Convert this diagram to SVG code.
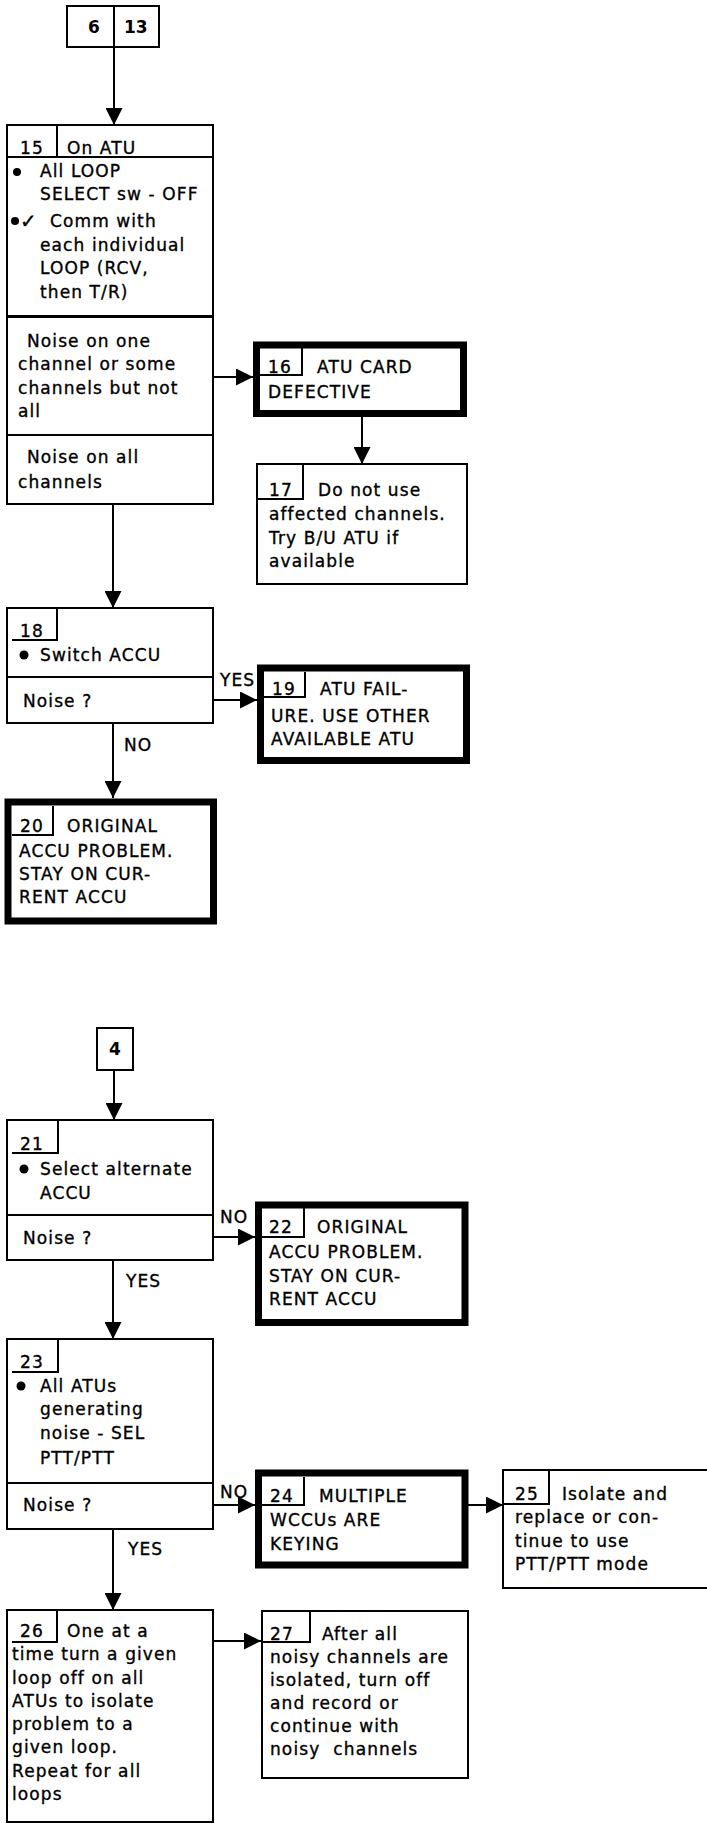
<svg xmlns="http://www.w3.org/2000/svg" width="707" height="1825" viewBox="0 0 707 1825">
<style>
.box{fill:#fff;stroke:#000;stroke-width:2}
.thick{fill:#fff;stroke:#000;stroke-width:7}
.ln{fill:none;stroke:#000;stroke-width:2}
.edge{fill:none;stroke:#000;stroke-width:2;marker-end:url(#ah)}
.dot{fill:#000}
text{font-family:"DejaVu Sans","Liberation Sans",sans-serif;font-size:17px;letter-spacing:1.1px;fill:#000;stroke:#000;stroke-width:0.35px}
.b{font-weight:bold;letter-spacing:0;stroke-width:0}
</style>
<defs>
<marker id="ah" markerUnits="userSpaceOnUse" markerWidth="17" markerHeight="17" refX="17" refY="8.5" orient="auto">
<path d="M0,0 L17,8.5 L0,17 Z" fill="#000"/>
</marker>
</defs>
<rect width="707" height="1825" fill="#fff"/>

<g id="connectors">
<line class="edge" x1="114" y1="47" x2="114" y2="125"/>
<line class="edge" x1="213" y1="377" x2="253" y2="377"/>
<line class="edge" x1="362" y1="417" x2="362" y2="464"/>
<line class="edge" x1="113" y1="504" x2="113" y2="608"/>
<line class="edge" x1="213" y1="700" x2="257" y2="700"/>
<text x="220" y="686">YES</text>
<line class="edge" x1="113" y1="723" x2="113" y2="798"/>
<text x="124" y="751">NO</text>
<line class="edge" x1="114" y1="1070" x2="114" y2="1120"/>
<line class="edge" x1="213" y1="1237" x2="255" y2="1237"/>
<text x="220" y="1223">NO</text>
<line class="edge" x1="113" y1="1260" x2="113" y2="1339"/>
<text x="126" y="1287">YES</text>
<line class="edge" x1="213" y1="1505" x2="255" y2="1505"/>
<text x="220" y="1498">NO</text>
<line class="edge" x1="468" y1="1505" x2="503" y2="1505"/>
<line class="edge" x1="113" y1="1529" x2="113" y2="1610"/>
<text x="128" y="1555">YES</text>
<line class="edge" x1="213" y1="1641" x2="261" y2="1641"/>
</g>

<g id="n6_13">
<rect class="box" x="67" y="6" width="92" height="41"/>
<line class="ln" x1="114" y1="6" x2="114" y2="47"/>
<text class="b" x="88" y="33">6</text>
<text class="b" x="124" y="33">13</text>
</g>

<g id="n15">
<rect class="box" x="7" y="125" width="206" height="379"/>
<line class="ln" x1="7" y1="157" x2="213" y2="157"/>
<line class="ln" x1="57" y1="125" x2="57" y2="157"/>
<line class="ln" x1="7" y1="316.5" x2="213" y2="316.5" style="stroke-width:3"/>
<line class="ln" x1="7" y1="435" x2="213" y2="435"/>
<text x="20" y="154">15</text>
<text x="67" y="154">On ATU</text>
<circle class="dot" cx="17" cy="172" r="4"/>
<text x="40" y="177">All LOOP</text>
<text x="40" y="200">SELECT sw - OFF</text>
<circle class="dot" cx="15" cy="221" r="4"/>
<text x="20" y="228" style="letter-spacing:0;font-size:20px">✓</text>
<text x="50" y="227">Comm with</text>
<text x="40" y="251">each individual</text>
<text x="40" y="274">LOOP (RCV,</text>
<text x="40" y="298">then T/R)</text>
<text x="27" y="347">Noise on one</text>
<text x="18" y="370">channel or some</text>
<text x="18" y="394">channels but not</text>
<text x="18" y="417">all</text>
<text x="27" y="463">Noise on all</text>
<text x="18" y="488">channels</text>
</g>

<g id="n16">
<rect class="thick" x="256.5" y="345" width="207" height="68.5"/>
<path class="ln" d="M260 375 H302 V348"/>
<text x="268" y="373">16</text>
<text x="317" y="373">ATU CARD</text>
<text x="268" y="398">DEFECTIVE</text>
</g>

<g id="n17">
<rect class="box" x="257" y="464" width="210" height="120"/>
<path class="ln" d="M257 499 H303 V464"/>
<text x="269" y="496">17</text>
<text x="318" y="496">Do not use</text>
<text x="269" y="520">affected channels.</text>
<text x="269" y="544">Try B/U ATU if</text>
<text x="269" y="567">available</text>
</g>

<g id="n18">
<rect class="box" x="7" y="608" width="206" height="115"/>
<path class="ln" d="M12 640 H57 V608"/>
<line class="ln" x1="7" y1="677" x2="213" y2="677"/>
<text x="20" y="637">18</text>
<circle class="dot" cx="24" cy="655" r="4.5"/>
<text x="40" y="661">Switch ACCU</text>
<text x="23" y="707">Noise ?</text>
</g>

<g id="n19">
<rect class="thick" x="260.5" y="668" width="206" height="92.5"/>
<path class="ln" d="M264 697 H305 V672"/>
<text x="272" y="695">19</text>
<text x="320" y="695">ATU FAIL-</text>
<text x="271" y="722">URE.  USE OTHER</text>
<text x="271" y="745">AVAILABLE ATU</text>
</g>

<g id="n20">
<rect class="thick" x="8" y="802" width="205.5" height="119"/>
<path class="ln" d="M12 835 H53 V806"/>
<text x="20" y="832">20</text>
<text x="67" y="832">ORIGINAL</text>
<text x="19" y="857">ACCU PROBLEM.</text>
<text x="19" y="880">STAY ON CUR-</text>
<text x="19" y="903">RENT ACCU</text>
</g>

<g id="n4">
<rect class="box" x="97" y="1028" width="36" height="42"/>
<text class="b" x="115" y="1055" text-anchor="middle">4</text>
</g>

<g id="n21">
<rect class="box" x="7" y="1120" width="206" height="140"/>
<path class="ln" d="M12 1153 H58 V1120"/>
<line class="ln" x1="7" y1="1215" x2="213" y2="1215"/>
<text x="20" y="1150">21</text>
<circle class="dot" cx="24" cy="1169" r="4.5"/>
<text x="40" y="1175">Select alternate</text>
<text x="40" y="1199">ACCU</text>
<text x="23" y="1244">Noise ?</text>
</g>

<g id="n22">
<rect class="thick" x="258.5" y="1205" width="206.5" height="117.5"/>
<path class="ln" d="M262 1237 H304 V1208"/>
<text x="269" y="1233">22</text>
<text x="317" y="1233">ORIGINAL</text>
<text x="269" y="1258">ACCU PROBLEM.</text>
<text x="269" y="1282">STAY ON CUR-</text>
<text x="269" y="1305">RENT ACCU</text>
</g>

<g id="n23">
<rect class="box" x="7" y="1339" width="206" height="190"/>
<path class="ln" d="M12 1372 H58 V1339"/>
<line class="ln" x1="7" y1="1483" x2="213" y2="1483"/>
<text x="20" y="1368">23</text>
<circle class="dot" cx="21" cy="1386" r="4.5"/>
<text x="40" y="1392">All ATUs</text>
<text x="40" y="1415">generating</text>
<text x="40" y="1439">noise - SEL</text>
<text x="40" y="1464">PTT/PTT</text>
<text x="23" y="1511">Noise ?</text>
</g>

<g id="n24">
<rect class="thick" x="258.5" y="1473" width="206.5" height="92"/>
<path class="ln" d="M262 1505 H304 V1477"/>
<text x="270" y="1502">24</text>
<text x="319" y="1502">MULTIPLE</text>
<text x="270" y="1526">WCCUs ARE</text>
<text x="270" y="1550">KEYING</text>
</g>

<g id="n25">
<rect class="box" x="503" y="1470" width="210" height="118"/>
<path class="ln" d="M503 1504 H549 V1470"/>
<text x="515" y="1500">25</text>
<text x="562" y="1500">Isolate and</text>
<text x="515" y="1523">replace or con-</text>
<text x="515" y="1547">tinue to use</text>
<text x="515" y="1570">PTT/PTT mode</text>
</g>

<g id="n26">
<rect class="box" x="7" y="1610" width="206" height="212"/>
<path class="ln" d="M12 1642 H57 V1610"/>
<text x="20" y="1637">26</text>
<text x="67" y="1637">One at a</text>
<text x="12" y="1660">time turn a given</text>
<text x="12" y="1684">loop off on all</text>
<text x="12" y="1707">ATUs to isolate</text>
<text x="12" y="1730">problem to a</text>
<text x="12" y="1753">given loop.</text>
<text x="12" y="1777">Repeat for all</text>
<text x="12" y="1800">loops</text>
</g>

<g id="n27">
<rect class="box" x="262" y="1611" width="206" height="167"/>
<path class="ln" d="M262 1642 H310 V1611"/>
<text x="270" y="1640">27</text>
<text x="322" y="1640">After all</text>
<text x="270" y="1663">noisy channels are</text>
<text x="270" y="1686">isolated, turn off</text>
<text x="270" y="1709">and record or</text>
<text x="270" y="1732">continue with</text>
<text x="270" y="1755" style="white-space:pre">noisy  channels</text>
</g>
</svg>
